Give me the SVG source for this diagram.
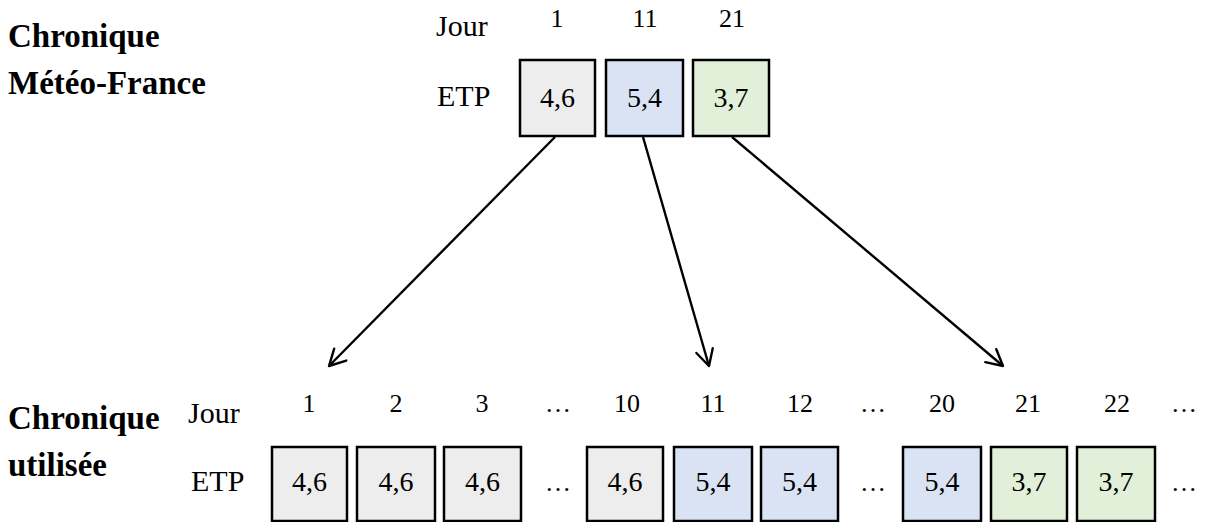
<svg xmlns="http://www.w3.org/2000/svg" width="1205" height="522" viewBox="0 0 1205 522">
<defs>
<style>
text{font-family:"Liberation Serif","Times New Roman",serif;fill:#000}
.title{font-weight:bold;font-size:33px}
.lab{font-size:30px}
.day{font-size:26px;text-anchor:middle}
.val{font-size:28px;text-anchor:middle}
.box{stroke:#000;stroke-width:2.5}
.g{fill:#EDEDED}.b{fill:#DAE3F3}.v{fill:#E2F0D9}
.conn{stroke:#000;stroke-width:2.4;fill:none}
</style>
<marker id="ah" markerWidth="20" markerHeight="20" refX="18" refY="10" orient="auto" markerUnits="userSpaceOnUse" viewBox="0 0 20 20">
<path d="M2,1.5 L18,10 L2,18.5" fill="none" stroke="#000" stroke-width="2.4" stroke-linecap="round" stroke-linejoin="round"/>
</marker>
</defs>
<rect width="1205" height="522" fill="#fff"/>
<g id="title-top"><text class="title" x="8" y="47">Chronique</text><text class="title" x="8" y="94">Météo-France</text></g>
<g id="title-bottom"><text class="title" x="8" y="429">Chronique</text><text class="title" x="8" y="476">utilisée</text></g>
<g id="top-labels"><text class="lab" x="436" y="36">Jour</text><text class="lab" x="437" y="106">ETP</text></g>
<g id="bottom-labels"><text class="lab" x="188" y="423">Jour</text><text class="lab" x="191" y="491">ETP</text></g>
<g id="top-1"><text class="day" x="557" y="27">1</text><rect class="box g" x="520" y="60" width="75" height="76"/><text class="val" x="557.5" y="107">4,6</text></g>
<g id="top-11"><text class="day" x="645" y="27">11</text><rect class="box b" x="606" y="60" width="77" height="76"/><text class="val" x="644.5" y="107">5,4</text></g>
<g id="top-21"><text class="day" x="732" y="27">21</text><rect class="box v" x="693" y="60" width="76" height="76"/><text class="val" x="731" y="107">3,7</text></g>
<g id="b-1"><text class="day" x="309" y="412">1</text><rect class="box g" x="272" y="447" width="75" height="74"/><text class="val" x="309.5" y="491">4,6</text></g>
<g id="b-2"><text class="day" x="396" y="412">2</text><rect class="box g" x="357" y="447" width="78" height="74"/><text class="val" x="396" y="491">4,6</text></g>
<g id="b-3"><text class="day" x="482" y="412">3</text><rect class="box g" x="444" y="447" width="77" height="74"/><text class="val" x="482.5" y="491">4,6</text></g>
<g id="b-dots1"><text class="day" x="558" y="412">…</text><text class="day" x="558" y="491">…</text></g>
<g id="b-10"><text class="day" x="627" y="412">10</text><rect class="box g" x="587" y="447" width="76" height="74"/><text class="val" x="625" y="491">4,6</text></g>
<g id="b-11"><text class="day" x="713" y="412">11</text><rect class="box b" x="674" y="447" width="78" height="74"/><text class="val" x="713" y="491">5,4</text></g>
<g id="b-12"><text class="day" x="800" y="412">12</text><rect class="box b" x="761" y="447" width="77" height="74"/><text class="val" x="799.5" y="491">5,4</text></g>
<g id="b-dots2"><text class="day" x="873" y="412">…</text><text class="day" x="873" y="491">…</text></g>
<g id="b-20"><text class="day" x="942" y="412">20</text><rect class="box b" x="903" y="447" width="78" height="74"/><text class="val" x="942" y="491">5,4</text></g>
<g id="b-21"><text class="day" x="1028" y="412">21</text><rect class="box v" x="991" y="447" width="76" height="74"/><text class="val" x="1029" y="491">3,7</text></g>
<g id="b-22"><text class="day" x="1117" y="412">22</text><rect class="box v" x="1077" y="447" width="78" height="74"/><text class="val" x="1116" y="491">3,7</text></g>
<g id="b-dots3"><text class="day" x="1184" y="412">…</text><text class="day" x="1184" y="491">…</text></g>
<g id="connectors">
<line class="conn" x1="555" y1="137" x2="329" y2="366" marker-end="url(#ah)"/>
<line class="conn" x1="643" y1="137" x2="709" y2="366" marker-end="url(#ah)"/>
<line class="conn" x1="732" y1="137" x2="1003" y2="366" marker-end="url(#ah)"/>
</g>
</svg>
